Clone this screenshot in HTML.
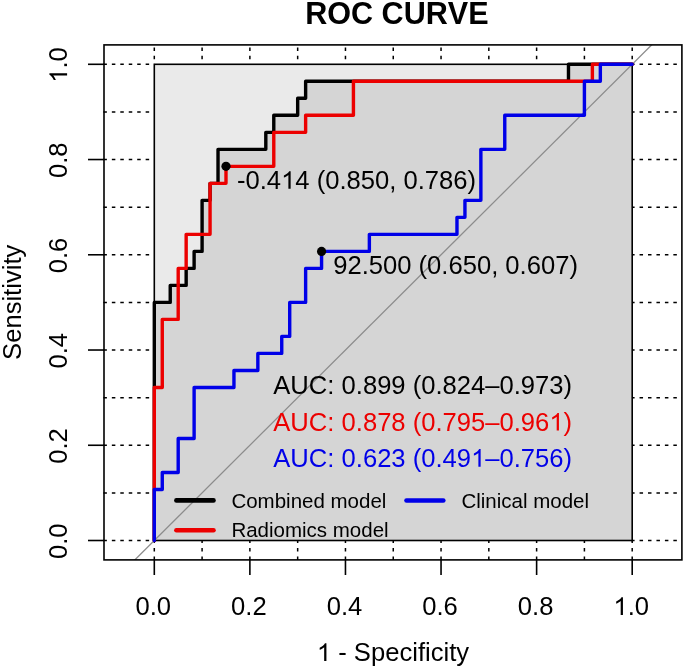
<!DOCTYPE html><html><head><meta charset="utf-8"><style>html,body{margin:0;padding:0;background:#fff;}svg{display:block;will-change:transform;}text{font-family:"Liberation Sans",sans-serif;font-kerning:none;}</style></head><body>
<svg width="685" height="670" viewBox="0 0 685 670">
<rect x="0" y="0" width="685" height="670" fill="#fff"/>
<line x1="103.40" y1="540.50" x2="154.30" y2="540.50" stroke="#000" stroke-width="1.50" stroke-dasharray="3.5 4.95"/>
<line x1="631.10" y1="540.50" x2="681.90" y2="540.50" stroke="#000" stroke-width="1.50" stroke-dasharray="3.5 4.95"/>
<line x1="154.30" y1="47.40" x2="154.30" y2="64.30" stroke="#000" stroke-width="1.50" stroke-dasharray="3.5 4.95" stroke-dashoffset="0"/>
<line x1="154.30" y1="559.90" x2="154.30" y2="540.50" stroke="#000" stroke-width="1.50" stroke-dasharray="3.5 4.95"/>
<line x1="103.40" y1="492.88" x2="154.30" y2="492.88" stroke="#000" stroke-width="1.50" stroke-dasharray="3.5 4.95"/>
<line x1="631.10" y1="492.88" x2="681.90" y2="492.88" stroke="#000" stroke-width="1.50" stroke-dasharray="3.5 4.95"/>
<line x1="202.09" y1="47.40" x2="202.09" y2="64.30" stroke="#000" stroke-width="1.50" stroke-dasharray="3.5 4.95" stroke-dashoffset="0"/>
<line x1="202.09" y1="559.90" x2="202.09" y2="540.50" stroke="#000" stroke-width="1.50" stroke-dasharray="3.5 4.95"/>
<line x1="103.40" y1="445.26" x2="154.30" y2="445.26" stroke="#000" stroke-width="1.50" stroke-dasharray="3.5 4.95"/>
<line x1="631.10" y1="445.26" x2="681.90" y2="445.26" stroke="#000" stroke-width="1.50" stroke-dasharray="3.5 4.95"/>
<line x1="249.88" y1="47.40" x2="249.88" y2="64.30" stroke="#000" stroke-width="1.50" stroke-dasharray="3.5 4.95" stroke-dashoffset="0"/>
<line x1="249.88" y1="559.90" x2="249.88" y2="540.50" stroke="#000" stroke-width="1.50" stroke-dasharray="3.5 4.95"/>
<line x1="103.40" y1="397.64" x2="154.30" y2="397.64" stroke="#000" stroke-width="1.50" stroke-dasharray="3.5 4.95"/>
<line x1="631.10" y1="397.64" x2="681.90" y2="397.64" stroke="#000" stroke-width="1.50" stroke-dasharray="3.5 4.95"/>
<line x1="297.67" y1="47.40" x2="297.67" y2="64.30" stroke="#000" stroke-width="1.50" stroke-dasharray="3.5 4.95" stroke-dashoffset="0"/>
<line x1="297.67" y1="559.90" x2="297.67" y2="540.50" stroke="#000" stroke-width="1.50" stroke-dasharray="3.5 4.95"/>
<line x1="103.40" y1="350.02" x2="154.30" y2="350.02" stroke="#000" stroke-width="1.50" stroke-dasharray="3.5 4.95"/>
<line x1="631.10" y1="350.02" x2="681.90" y2="350.02" stroke="#000" stroke-width="1.50" stroke-dasharray="3.5 4.95"/>
<line x1="345.46" y1="47.40" x2="345.46" y2="64.30" stroke="#000" stroke-width="1.50" stroke-dasharray="3.5 4.95" stroke-dashoffset="0"/>
<line x1="345.46" y1="559.90" x2="345.46" y2="540.50" stroke="#000" stroke-width="1.50" stroke-dasharray="3.5 4.95"/>
<line x1="103.40" y1="302.40" x2="154.30" y2="302.40" stroke="#000" stroke-width="1.50" stroke-dasharray="3.5 4.95"/>
<line x1="631.10" y1="302.40" x2="681.90" y2="302.40" stroke="#000" stroke-width="1.50" stroke-dasharray="3.5 4.95"/>
<line x1="393.25" y1="47.40" x2="393.25" y2="64.30" stroke="#000" stroke-width="1.50" stroke-dasharray="3.5 4.95" stroke-dashoffset="0"/>
<line x1="393.25" y1="559.90" x2="393.25" y2="540.50" stroke="#000" stroke-width="1.50" stroke-dasharray="3.5 4.95"/>
<line x1="103.40" y1="254.78" x2="154.30" y2="254.78" stroke="#000" stroke-width="1.50" stroke-dasharray="3.5 4.95"/>
<line x1="631.10" y1="254.78" x2="681.90" y2="254.78" stroke="#000" stroke-width="1.50" stroke-dasharray="3.5 4.95"/>
<line x1="441.04" y1="47.40" x2="441.04" y2="64.30" stroke="#000" stroke-width="1.50" stroke-dasharray="3.5 4.95" stroke-dashoffset="0"/>
<line x1="441.04" y1="559.90" x2="441.04" y2="540.50" stroke="#000" stroke-width="1.50" stroke-dasharray="3.5 4.95"/>
<line x1="103.40" y1="207.16" x2="154.30" y2="207.16" stroke="#000" stroke-width="1.50" stroke-dasharray="3.5 4.95"/>
<line x1="631.10" y1="207.16" x2="681.90" y2="207.16" stroke="#000" stroke-width="1.50" stroke-dasharray="3.5 4.95"/>
<line x1="488.83" y1="47.40" x2="488.83" y2="64.30" stroke="#000" stroke-width="1.50" stroke-dasharray="3.5 4.95" stroke-dashoffset="0"/>
<line x1="488.83" y1="559.90" x2="488.83" y2="540.50" stroke="#000" stroke-width="1.50" stroke-dasharray="3.5 4.95"/>
<line x1="103.40" y1="159.54" x2="154.30" y2="159.54" stroke="#000" stroke-width="1.50" stroke-dasharray="3.5 4.95"/>
<line x1="631.10" y1="159.54" x2="681.90" y2="159.54" stroke="#000" stroke-width="1.50" stroke-dasharray="3.5 4.95"/>
<line x1="536.62" y1="47.40" x2="536.62" y2="64.30" stroke="#000" stroke-width="1.50" stroke-dasharray="3.5 4.95" stroke-dashoffset="0"/>
<line x1="536.62" y1="559.90" x2="536.62" y2="540.50" stroke="#000" stroke-width="1.50" stroke-dasharray="3.5 4.95"/>
<line x1="103.40" y1="111.92" x2="154.30" y2="111.92" stroke="#000" stroke-width="1.50" stroke-dasharray="3.5 4.95"/>
<line x1="631.10" y1="111.92" x2="681.90" y2="111.92" stroke="#000" stroke-width="1.50" stroke-dasharray="3.5 4.95"/>
<line x1="584.41" y1="47.40" x2="584.41" y2="64.30" stroke="#000" stroke-width="1.50" stroke-dasharray="3.5 4.95" stroke-dashoffset="0"/>
<line x1="584.41" y1="559.90" x2="584.41" y2="540.50" stroke="#000" stroke-width="1.50" stroke-dasharray="3.5 4.95"/>
<line x1="103.40" y1="64.30" x2="154.30" y2="64.30" stroke="#000" stroke-width="1.50" stroke-dasharray="3.5 4.95"/>
<line x1="631.10" y1="64.30" x2="681.90" y2="64.30" stroke="#000" stroke-width="1.50" stroke-dasharray="3.5 4.95"/>
<line x1="632.20" y1="47.40" x2="632.20" y2="64.30" stroke="#000" stroke-width="1.50" stroke-dasharray="3.5 4.95" stroke-dashoffset="0"/>
<line x1="632.20" y1="559.90" x2="632.20" y2="540.50" stroke="#000" stroke-width="1.50" stroke-dasharray="3.5 4.95"/>
<rect x="154.30" y="64.30" width="477.90" height="476.20" fill="#EAEAEA"/>
<polygon points="154.30,540.50 154.30,302.40 170.23,302.40 170.23,285.39 186.16,285.39 186.16,268.39 194.12,268.39 194.12,251.38 202.09,251.38 202.09,200.36 210.06,200.36 210.06,183.35 218.02,183.35 218.02,149.34 265.81,149.34 265.81,132.33 273.78,132.33 273.78,115.32 297.67,115.32 297.67,98.31 305.63,98.31 305.63,81.31 568.48,81.31 568.48,64.30 632.20,64.30 632.20,540.50" fill="#D5D5D5"/>
<rect x="154.30" y="64.30" width="477.90" height="476.20" fill="none" stroke="#000" stroke-width="1.6"/>
<clipPath id="pc"><rect x="104.00" y="44.90" width="577.90" height="515.00"/></clipPath>
<line clip-path="url(#pc)" x1="58.72" y1="635.74" x2="727.78" y2="-30.94" stroke="#8C8C8C" stroke-width="1.3"/>
<polyline points="154.30,540.50 154.30,302.40 170.23,302.40 170.23,285.39 186.16,285.39 186.16,268.39 194.12,268.39 194.12,251.38 202.09,251.38 202.09,200.36 210.06,200.36 210.06,183.35 218.02,183.35 218.02,149.34 265.81,149.34 265.81,132.33 273.78,132.33 273.78,115.32 297.67,115.32 297.67,98.31 305.63,98.31 305.63,81.31 568.48,81.31 568.48,64.30 632.20,64.30" fill="none" stroke="#000" stroke-width="3.40" stroke-linejoin="round" stroke-linecap="round"/>
<polyline points="154.30,540.50 154.30,387.44 162.27,387.44 162.27,319.41 178.20,319.41 178.20,268.39 186.16,268.39 186.16,234.37 210.06,234.37 210.06,183.35 225.99,183.35 225.99,166.34 273.78,166.34 273.78,132.33 305.63,132.33 305.63,115.32 353.43,115.32 353.43,81.31 592.38,81.31 592.38,64.30 632.20,64.30" fill="none" stroke="#EC0000" stroke-width="3.40" stroke-linejoin="round" stroke-linecap="round"/>
<polyline points="154.30,540.50 154.30,489.48 162.27,489.48 162.27,472.47 178.20,472.47 178.20,438.46 194.12,438.46 194.12,387.44 233.95,387.44 233.95,370.43 257.85,370.43 257.85,353.42 281.74,353.42 281.74,336.41 289.71,336.41 289.71,302.40 305.63,302.40 305.63,268.39 321.57,268.39 321.57,251.38 369.36,251.38 369.36,234.37 456.97,234.37 456.97,217.36 464.94,217.36 464.94,200.36 480.87,200.36 480.87,149.34 504.76,149.34 504.76,115.32 584.41,115.32 584.41,81.31 600.34,81.31 600.34,64.30 632.20,64.30" fill="none" stroke="#0000E8" stroke-width="3.40" stroke-linejoin="round" stroke-linecap="round"/>
<circle cx="225.99" cy="166.34" r="4.6" fill="#000"/>
<circle cx="321.57" cy="251.38" r="4.6" fill="#000"/>
<g transform="translate(236.99,188.84)">
<mask id="mk1" maskUnits="userSpaceOnUse" x="-2000" y="-2000" width="4000" height="4000"><rect x="-2000" y="-2000" width="4000" height="4000" fill="#fff"/><rect x="44.96" y="-18.81" width="13.34" height="20.01" fill="#000"/></mask>
<text x="0.00" y="0" font-size="25.60" fill="#000" font-weight="normal" mask="url(#mk1)">-0.414 (0.850, 0.786)</text>
<path d="M 53.65 0.00 L 51.40 0.00 L 51.40 -13.84 Q 50.59 -13.09 49.27 -12.34 Q 47.95 -11.59 46.90 -11.22 L 46.90 -13.32 Q 48.79 -14.17 50.18 -15.37 Q 51.58 -16.56 52.20 -17.68 L 53.65 -17.68 Z" fill="#000"/>
</g>
<g transform="translate(333.17,273.98)">
<text x="0.00" y="0" font-size="25.60" fill="#000" font-weight="normal">92.500 (0.650, 0.607)</text>
</g>
<g transform="translate(273.30,393.60)">
<text x="0.00" y="0" font-size="25.60" fill="#000" font-weight="normal">AUC: 0.899 (0.824–0.973)</text>
</g>
<g transform="translate(273.30,430.60)">
<mask id="mk2" maskUnits="userSpaceOnUse" x="-2000" y="-2000" width="4000" height="4000"><rect x="-2000" y="-2000" width="4000" height="4000" fill="#fff"/><rect x="276.95" y="-18.81" width="13.19" height="20.01" fill="#000"/></mask>
<text x="0.00" y="0" font-size="25.60" fill="#EC0000" font-weight="normal" mask="url(#mk2)">AUC: 0.878 (0.795–0.961)</text>
<path d="M 285.64 0.00 L 283.39 0.00 L 283.39 -13.84 Q 282.58 -13.09 281.26 -12.34 Q 279.94 -11.59 278.89 -11.22 L 278.89 -13.32 Q 280.78 -14.17 282.17 -15.37 Q 283.56 -16.56 284.19 -17.68 L 285.64 -17.68 Z" fill="#EC0000"/>
</g>
<g transform="translate(273.30,466.80)">
<mask id="mk3" maskUnits="userSpaceOnUse" x="-2000" y="-2000" width="4000" height="4000"><rect x="-2000" y="-2000" width="4000" height="4000" fill="#fff"/><rect x="198.65" y="-18.81" width="13.04" height="20.01" fill="#000"/></mask>
<text x="0.00" y="0" font-size="25.60" fill="#0000E8" font-weight="normal" mask="url(#mk3)">AUC: 0.623 (0.491–0.756)</text>
<path d="M 207.34 0.00 L 205.09 0.00 L 205.09 -13.84 Q 204.28 -13.09 202.96 -12.34 Q 201.64 -11.59 200.59 -11.22 L 200.59 -13.32 Q 202.48 -14.17 203.87 -15.37 Q 205.26 -16.56 205.89 -17.68 L 207.34 -17.68 Z" fill="#0000E8"/>
</g>
<line x1="176.40" y1="500.40" x2="213.50" y2="500.40" stroke="#000" stroke-width="4.60" stroke-linecap="round"/>
<line x1="176.40" y1="530.20" x2="213.50" y2="530.20" stroke="#EC0000" stroke-width="4.60" stroke-linecap="round"/>
<line x1="406.50" y1="500.50" x2="443.30" y2="500.50" stroke="#0000E8" stroke-width="4.60" stroke-linecap="round"/>
<g transform="translate(231.40,507.60)">
<text x="0.00" y="0" font-size="20.50" fill="#000" font-weight="normal">Combined model</text>
</g>
<g transform="translate(231.40,537.30)">
<text x="0.00" y="0" font-size="20.50" fill="#000" font-weight="normal">Radiomics model</text>
</g>
<g transform="translate(461.40,507.60)">
<text x="0.00" y="0" font-size="20.50" fill="#000" font-weight="normal">Clinical model</text>
</g>
<rect x="104.00" y="44.90" width="577.90" height="515.00" fill="none" stroke="#000" stroke-width="1.6"/>
<line x1="154.30" y1="559.90" x2="154.30" y2="575.00" stroke="#000" stroke-width="1.6"/>
<line x1="104.00" y1="540.50" x2="88.00" y2="540.50" stroke="#000" stroke-width="1.6"/>
<g transform="translate(153.30,614.90)">
<text x="-17.79" y="0" font-size="25.60" fill="#000" font-weight="normal">0.0</text>
</g>
<g transform="translate(67.10,541.20) rotate(-90)">
<text x="-17.79" y="0" font-size="25.60" fill="#000" font-weight="normal">0.0</text>
</g>
<line x1="249.88" y1="559.90" x2="249.88" y2="575.00" stroke="#000" stroke-width="1.6"/>
<line x1="104.00" y1="445.26" x2="88.00" y2="445.26" stroke="#000" stroke-width="1.6"/>
<g transform="translate(248.88,614.90)">
<text x="-17.79" y="0" font-size="25.60" fill="#000" font-weight="normal">0.2</text>
</g>
<g transform="translate(67.10,445.96) rotate(-90)">
<text x="-17.79" y="0" font-size="25.60" fill="#000" font-weight="normal">0.2</text>
</g>
<line x1="345.46" y1="559.90" x2="345.46" y2="575.00" stroke="#000" stroke-width="1.6"/>
<line x1="104.00" y1="350.02" x2="88.00" y2="350.02" stroke="#000" stroke-width="1.6"/>
<g transform="translate(344.46,614.90)">
<text x="-17.79" y="0" font-size="25.60" fill="#000" font-weight="normal">0.4</text>
</g>
<g transform="translate(67.10,350.72) rotate(-90)">
<text x="-17.79" y="0" font-size="25.60" fill="#000" font-weight="normal">0.4</text>
</g>
<line x1="441.04" y1="559.90" x2="441.04" y2="575.00" stroke="#000" stroke-width="1.6"/>
<line x1="104.00" y1="254.78" x2="88.00" y2="254.78" stroke="#000" stroke-width="1.6"/>
<g transform="translate(440.04,614.90)">
<text x="-17.79" y="0" font-size="25.60" fill="#000" font-weight="normal">0.6</text>
</g>
<g transform="translate(67.10,255.48) rotate(-90)">
<text x="-17.79" y="0" font-size="25.60" fill="#000" font-weight="normal">0.6</text>
</g>
<line x1="536.62" y1="559.90" x2="536.62" y2="575.00" stroke="#000" stroke-width="1.6"/>
<line x1="104.00" y1="159.54" x2="88.00" y2="159.54" stroke="#000" stroke-width="1.6"/>
<g transform="translate(535.62,614.90)">
<text x="-17.79" y="0" font-size="25.60" fill="#000" font-weight="normal">0.8</text>
</g>
<g transform="translate(67.10,160.24) rotate(-90)">
<text x="-17.79" y="0" font-size="25.60" fill="#000" font-weight="normal">0.8</text>
</g>
<line x1="632.20" y1="559.90" x2="632.20" y2="575.00" stroke="#000" stroke-width="1.6"/>
<line x1="104.00" y1="64.30" x2="88.00" y2="64.30" stroke="#000" stroke-width="1.6"/>
<g transform="translate(631.20,614.90)">
<mask id="mk4" maskUnits="userSpaceOnUse" x="-2000" y="-2000" width="4000" height="4000"><rect x="-2000" y="-2000" width="4000" height="4000" fill="#fff"/><rect x="-16.94" y="-18.81" width="13.34" height="20.01" fill="#000"/></mask>
<text x="-17.79" y="0" font-size="25.60" fill="#000" font-weight="normal" mask="url(#mk4)">1.0</text>
<path d="M -8.26 0.00 L -10.51 0.00 L -10.51 -13.84 Q -11.32 -13.09 -12.64 -12.34 Q -13.96 -11.59 -15.01 -11.22 L -15.01 -13.32 Q -13.12 -14.17 -11.72 -15.37 Q -10.33 -16.56 -9.71 -17.68 L -8.26 -17.68 Z" fill="#000"/>
</g>
<g transform="translate(67.10,65.00) rotate(-90)">
<mask id="mk5" maskUnits="userSpaceOnUse" x="-2000" y="-2000" width="4000" height="4000"><rect x="-2000" y="-2000" width="4000" height="4000" fill="#fff"/><rect x="-16.94" y="-18.81" width="13.34" height="20.01" fill="#000"/></mask>
<text x="-17.79" y="0" font-size="25.60" fill="#000" font-weight="normal" mask="url(#mk5)">1.0</text>
<path d="M -8.26 0.00 L -10.51 0.00 L -10.51 -13.84 Q -11.32 -13.09 -12.64 -12.34 Q -13.96 -11.59 -15.01 -11.22 L -15.01 -13.32 Q -13.12 -14.17 -11.72 -15.37 Q -10.33 -16.56 -9.71 -17.68 L -8.26 -17.68 Z" fill="#000"/>
</g>
<g transform="translate(305.25,23.90)">
<text x="0.00" y="0" font-size="30.55" fill="#000" font-weight="bold">ROC CURVE</text>
</g>
<g transform="translate(393.00,661.00)">
<mask id="mk6" maskUnits="userSpaceOnUse" x="-2000" y="-2000" width="4000" height="4000"><rect x="-2000" y="-2000" width="4000" height="4000" fill="#fff"/><rect x="-75.26" y="-18.81" width="13.34" height="20.01" fill="#000"/></mask>
<text x="-76.11" y="0" font-size="25.60" fill="#000" font-weight="normal" mask="url(#mk6)">1 - Specificity</text>
<path d="M -66.58 0.00 L -68.83 0.00 L -68.83 -13.84 Q -69.64 -13.09 -70.96 -12.34 Q -72.27 -11.59 -73.33 -11.22 L -73.33 -13.32 Q -71.44 -14.17 -70.04 -15.37 Q -68.65 -16.56 -68.02 -17.68 L -66.58 -17.68 Z" fill="#000"/>
</g>
<g transform="translate(21.20,302.30) rotate(-90)">
<text x="-57.62" y="0" font-size="25.60" fill="#000" font-weight="normal">Sensitivity</text>
</g>
</svg></body></html>
